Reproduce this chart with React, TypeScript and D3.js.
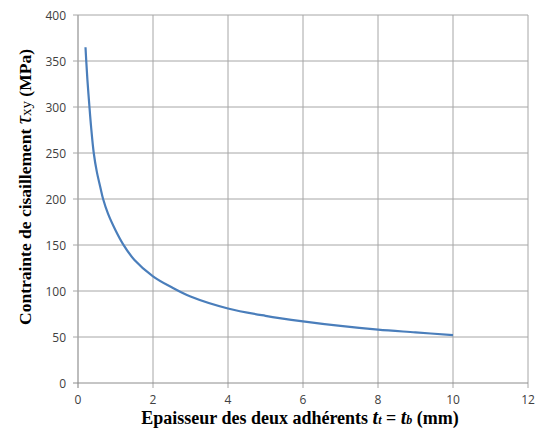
import React from 'react';
import * as d3 from 'd3';

const WIDTH = 546;
const HEIGHT = 432;
const MARGIN = { top: 15, right: 18, bottom: 49, left: 78 };

// thickness t (mm) and shear stress (MPa)
const thickness = [0.2, 0.22, 0.25, 0.3, 0.35, 0.42, 0.5, 0.6, 0.67, 0.8, 1.0, 1.2, 1.5, 2, 2.5, 3, 4, 5, 6, 7, 8, 9, 10];
const stress = [365, 350, 330, 303, 278, 250, 230, 212, 200, 184, 166, 151, 134, 116, 104, 94, 81, 73, 67, 62, 58, 55, 52];

const xTicks = [0, 2, 4, 6, 8, 10, 12];
const yTicks = [0, 50, 100, 150, 200, 250, 300, 350, 400];

const App = () => {
  const boundsWidth = WIDTH - MARGIN.left - MARGIN.right;
  const boundsHeight = HEIGHT - MARGIN.top - MARGIN.bottom;

  const xScale = d3.scaleLinear().domain([0, 12]).range([0, boundsWidth]);
  const yScale = d3.scaleLinear().domain([0, 400]).range([boundsHeight, 0]);

  const points = thickness.map((t, i) => [t, stress[i]] as [number, number]);
  const line = d3
    .line<[number, number]>()
    .x((d) => xScale(d[0]))
    .y((d) => yScale(d[1]))
    .curve(d3.curveCatmullRom.alpha(0.5));

  const tickFont = '"Open Sans", "Liberation Sans", Arial, sans-serif';
  const titleFont = '"Liberation Serif", "Times New Roman", serif';

  return (
    <div style={{ position: 'absolute', left: 0, top: 0 }}>
      <svg width={WIDTH} height={HEIGHT} style={{ display: 'block', background: '#fff' }}>
        <g transform={`translate(${MARGIN.left},${MARGIN.top})`}>
          {xTicks.map((v) => (
            <g key={'x' + v}>
              <line
                x1={xScale(v)}
                x2={xScale(v)}
                y1={0}
                y2={boundsHeight + 5}
                stroke={v === 0 ? '#bdbdbd' : '#a6a6a6'}
                strokeWidth={v === 0 ? 2 : 1}
              />
              <text
                x={xScale(v)}
                y={boundsHeight + 21}
                textAnchor="middle"
                fontSize={12}
                fontFamily={tickFont}
                fill="#404040"
              >
                {v}
              </text>
            </g>
          ))}
          {yTicks.map((v) => (
            <g key={'y' + v}>
              <line
                x1={-5}
                x2={boundsWidth}
                y1={yScale(v)}
                y2={yScale(v)}
                stroke={v === 0 ? '#8c8c8c' : '#a6a6a6'}
                strokeWidth={1}
              />
              <text
                x={-12}
                y={yScale(v)}
                textAnchor="end"
                dominantBaseline="central"
                fontSize={12}
                fontFamily={tickFont}
                fill="#404040"
              >
                {v}
              </text>
            </g>
          ))}
          <path d={line(points) || ''} fill="none" stroke="#4a7ebb" strokeWidth={2.2} />
        </g>
        <text
          x={300}
          y={424}
          textAnchor="middle"
          fontSize={18}
          fontWeight="bold"
          fontFamily={titleFont}
          fill="#000"
        >
          Epaisseur des deux adhérents{' '}
          <tspan fontStyle="italic" fontSize={20}>t</tspan>
          <tspan fontStyle="italic" fontSize={12}>t</tspan>
          <tspan> = </tspan>
          <tspan fontStyle="italic" fontSize={20}>t</tspan>
          <tspan fontStyle="italic" fontSize={12}>b</tspan>
          <tspan> (mm)</tspan>
        </text>
        <text
          transform="translate(31,187) rotate(-90)"
          textAnchor="middle"
          fontSize={17.5}
          fontWeight="bold"
          fontFamily={titleFont}
          fill="#000"
        >
          Contrainte de cisaillement{' '}
          <tspan fontStyle="italic" fontWeight="normal" fontSize={23}>τ</tspan>
          <tspan fontWeight="normal" fontSize={15}>xy</tspan>
          <tspan> (MPa)</tspan>
        </text>
      </svg>
    </div>
  );
};

export default App;
